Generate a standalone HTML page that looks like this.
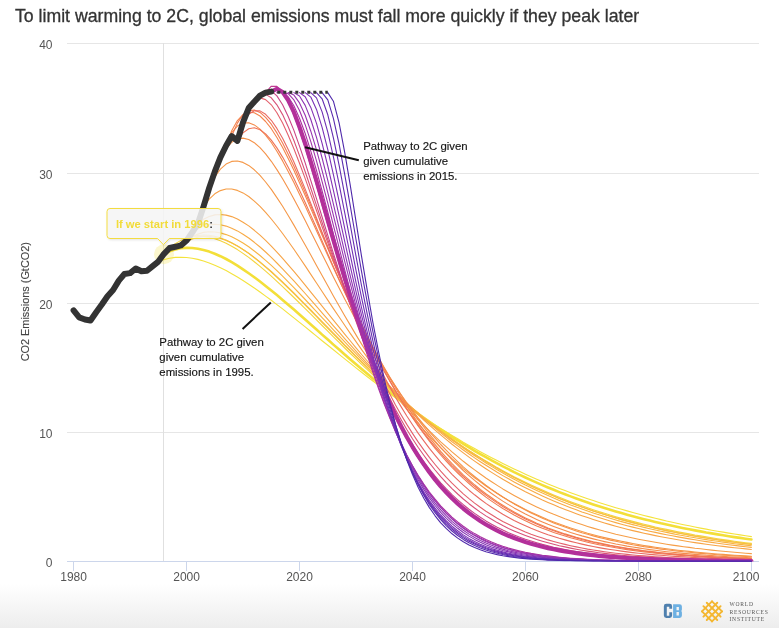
<!DOCTYPE html>
<html><head><meta charset="utf-8"><style>
html,body{margin:0;padding:0;background:#fff;}
body{width:779px;height:628px;overflow:hidden;position:relative;font-family:'Liberation Sans', sans-serif;}
svg{position:absolute;left:0;top:0;}
svg{will-change:transform;}
</style></head><body>
<svg width="779" height="628" viewBox="0 0 779 628" font-family="'Liberation Sans', sans-serif">
<defs>
<linearGradient id="bg" x1="0" y1="0" x2="0" y2="1">
<stop offset="0" stop-color="#ffffff"/><stop offset="1" stop-color="#ededed"/>
</linearGradient>
<clipPath id="plot"><rect x="67" y="40" width="692" height="521.5"/></clipPath>
<filter id="sh" x="-10%" y="-10%" width="130%" height="150%"><feDropShadow dx="1" dy="1" stdDeviation="1" flood-color="#000" flood-opacity="0.12"/></filter>
</defs>
<rect x="0" y="584" width="779" height="44" fill="url(#bg)"/>
<text x="15.0" y="21.8" font-size="17.7" fill="#333" stroke="#333" stroke-width="0.3">To limit warming to 2C, global emissions must fall more quickly if they peak later</text>
<line x1="67" x2="759" y1="43.5" y2="43.5" stroke="#e6e6e6" stroke-width="1"/><line x1="67" x2="759" y1="173.5" y2="173.5" stroke="#e6e6e6" stroke-width="1"/><line x1="67" x2="759" y1="303.5" y2="303.5" stroke="#e6e6e6" stroke-width="1"/><line x1="67" x2="759" y1="432.5" y2="432.5" stroke="#e6e6e6" stroke-width="1"/>
<line x1="163.5" x2="163.5" y1="43" y2="561" stroke="#e0e0e0" stroke-width="1"/>
<line x1="67" x2="759" y1="561.5" y2="561.5" stroke="#ccd6eb" stroke-width="1"/>
<line x1="73.5" x2="73.5" y1="561.5" y2="571" stroke="#ccd6eb" stroke-width="1"/><line x1="186.5" x2="186.5" y1="561.5" y2="571" stroke="#ccd6eb" stroke-width="1"/><line x1="299.5" x2="299.5" y1="561.5" y2="571" stroke="#ccd6eb" stroke-width="1"/><line x1="412.5" x2="412.5" y1="561.5" y2="571" stroke="#ccd6eb" stroke-width="1"/><line x1="525.5" x2="525.5" y1="561.5" y2="571" stroke="#ccd6eb" stroke-width="1"/><line x1="638.5" x2="638.5" y1="561.5" y2="571" stroke="#ccd6eb" stroke-width="1"/><line x1="751.5" x2="751.5" y1="561.5" y2="571" stroke="#ccd6eb" stroke-width="1"/>
<g font-size="12" fill="#555"><text x="52.5" y="566.5" text-anchor="end">0</text><text x="52.5" y="437.5" text-anchor="end">10</text><text x="52.5" y="308.5" text-anchor="end">20</text><text x="52.5" y="178.5" text-anchor="end">30</text><text x="52.5" y="48.5" text-anchor="end">40</text></g>
<g font-size="12" fill="#555" text-anchor="middle"><text x="73.6" y="581">1980</text><text x="186.6" y="581">2000</text><text x="299.5" y="581">2020</text><text x="412.5" y="581">2040</text><text x="525.4" y="581">2060</text><text x="638.4" y="581">2080</text><text x="746.0" y="581">2100</text></g>
<text transform="translate(29.4,301.7) rotate(-90)" text-anchor="middle" font-size="10.9" fill="#444" stroke="#444" stroke-width="0.12">CO2 Emissions (GtCO2)</text>
<g clip-path="url(#plot)"><path d="M158.3 261.6 L164.0 259.6 L169.6 258.2 L175.3 257.4 L180.9 257.2 L186.6 257.5 L192.2 258.2 L197.9 259.4 L203.5 261.0 L209.2 262.9 L214.8 265.2 L220.4 267.8 L226.1 270.6 L231.7 273.7 L237.4 277.0 L243.0 280.5 L248.7 284.2 L254.3 288.0 L260.0 292.0 L265.6 296.1 L271.3 300.3 L276.9 304.6 L282.6 308.9 L288.2 313.4 L293.9 317.9 L299.5 322.4 L305.2 326.9 L310.8 331.5 L316.5 336.1 L322.1 340.7 L327.8 345.3 L333.4 349.8 L339.1 354.4 L344.7 358.9 L350.4 363.4 L356.0 367.9 L361.6 372.3 L367.3 376.7 L372.9 381.0 L378.6 385.3 L384.2 389.5 L389.9 393.7 L395.5 397.8 L401.2 401.9 L406.8 405.9 L412.5 409.8 L418.1 413.7 L423.8 417.5 L429.4 421.2 L435.1 424.9 L440.7 428.5 L446.4 432.0 L452.0 435.4 L457.7 438.8 L463.3 442.2 L469.0 445.4 L474.6 448.6 L480.3 451.7 L485.9 454.7 L491.6 457.7 L497.2 460.6 L502.8 463.5 L508.5 466.3 L514.1 469.0 L519.8 471.6 L525.4 474.2 L531.1 476.7 L536.7 479.2 L542.4 481.6 L548.0 483.9 L553.7 486.2 L559.3 488.4 L565.0 490.6 L570.6 492.7 L576.3 494.8 L581.9 496.8 L587.6 498.7 L593.2 500.6 L598.9 502.4 L604.5 504.2 L610.2 506.0 L615.8 507.7 L621.5 509.3 L627.1 510.9 L632.8 512.5 L638.4 514.0 L644.0 515.5 L649.7 516.9 L655.3 518.3 L661.0 519.6 L666.6 521.0 L672.3 522.2 L677.9 523.5 L683.6 524.7 L689.2 525.8 L694.9 527.0 L700.5 528.1 L706.2 529.1 L711.8 530.2 L717.5 531.2 L723.1 532.1 L728.8 533.1 L734.4 534.0 L740.1 534.9 L745.7 535.7 L751.4 536.6" stroke="#f4e33c" stroke-width="1.1" fill="none" stroke-linejoin="round" stroke-linecap="round"/><path d="M164.0 253.8 L169.6 251.2 L175.3 249.4 L180.9 248.3 L186.6 247.9 L192.2 248.0 L197.9 248.7 L203.5 249.9 L209.2 251.6 L214.8 253.7 L220.4 256.2 L226.1 259.0 L231.7 262.2 L237.4 265.6 L243.0 269.3 L248.7 273.2 L254.3 277.2 L260.0 281.5 L265.6 285.9 L271.3 290.5 L276.9 295.1 L282.6 299.9 L288.2 304.7 L293.9 309.6 L299.5 314.5 L305.2 319.5 L310.8 324.5 L316.5 329.5 L322.1 334.6 L327.8 339.6 L333.4 344.6 L339.1 349.5 L344.7 354.5 L350.4 359.4 L356.0 364.2 L361.6 369.0 L367.3 373.8 L372.9 378.5 L378.6 383.1 L384.2 387.7 L389.9 392.2 L395.5 396.7 L401.2 401.0 L406.8 405.3 L412.5 409.6 L418.1 413.7 L423.8 417.8 L429.4 421.8 L435.1 425.7 L440.7 429.5 L446.4 433.2 L452.0 436.9 L457.7 440.5 L463.3 444.0 L469.0 447.4 L474.6 450.8 L480.3 454.1 L485.9 457.2 L491.6 460.4 L497.2 463.4 L502.8 466.4 L508.5 469.2 L514.1 472.1 L519.8 474.8 L525.4 477.5 L531.1 480.1 L536.7 482.6 L542.4 485.1 L548.0 487.5 L553.7 489.8 L559.3 492.1 L565.0 494.3 L570.6 496.4 L576.3 498.5 L581.9 500.5 L587.6 502.5 L593.2 504.4 L598.9 506.2 L604.5 508.0 L610.2 509.8 L615.8 511.5 L621.5 513.1 L627.1 514.7 L632.8 516.2 L638.4 517.7 L644.0 519.2 L649.7 520.6 L655.3 521.9 L661.0 523.3 L666.6 524.5 L672.3 525.8 L677.9 527.0 L683.6 528.2 L689.2 529.3 L694.9 530.4 L700.5 531.4 L706.2 532.5 L711.8 533.4 L717.5 534.4 L723.1 535.3 L728.8 536.2 L734.4 537.1 L740.1 537.9 L745.7 538.7 L751.4 539.5" stroke="#f3df38" stroke-width="2.6" fill="none" stroke-linejoin="round" stroke-linecap="round"/><path d="M169.6 248.0 L175.3 243.7 L180.9 240.4 L186.6 238.2 L192.2 236.8 L197.9 236.2 L203.5 236.4 L209.2 237.3 L214.8 238.7 L220.4 240.8 L226.1 243.3 L231.7 246.3 L237.4 249.6 L243.0 253.4 L248.7 257.4 L254.3 261.8 L260.0 266.4 L265.6 271.2 L271.3 276.2 L276.9 281.3 L282.6 286.6 L288.2 292.0 L293.9 297.5 L299.5 303.0 L305.2 308.6 L310.8 314.2 L316.5 319.9 L322.1 325.5 L327.8 331.2 L333.4 336.8 L339.1 342.4 L344.7 348.0 L350.4 353.5 L356.0 358.9 L361.6 364.3 L367.3 369.7 L372.9 374.9 L378.6 380.1 L384.2 385.2 L389.9 390.2 L395.5 395.2 L401.2 400.0 L406.8 404.7 L412.5 409.4 L418.1 414.0 L423.8 418.4 L429.4 422.8 L435.1 427.0 L440.7 431.2 L446.4 435.3 L452.0 439.2 L457.7 443.1 L463.3 446.9 L469.0 450.6 L474.6 454.2 L480.3 457.6 L485.9 461.0 L491.6 464.3 L497.2 467.6 L502.8 470.7 L508.5 473.7 L514.1 476.7 L519.8 479.5 L525.4 482.3 L531.1 485.0 L536.7 487.6 L542.4 490.1 L548.0 492.6 L553.7 495.0 L559.3 497.3 L565.0 499.5 L570.6 501.7 L576.3 503.8 L581.9 505.8 L587.6 507.8 L593.2 509.7 L598.9 511.6 L604.5 513.3 L610.2 515.1 L615.8 516.7 L621.5 518.4 L627.1 519.9 L632.8 521.4 L638.4 522.9 L644.0 524.3 L649.7 525.6 L655.3 527.0 L661.0 528.2 L666.6 529.4 L672.3 530.6 L677.9 531.8 L683.6 532.9 L689.2 533.9 L694.9 535.0 L700.5 535.9 L706.2 536.9 L711.8 537.8 L717.5 538.7 L723.1 539.6 L728.8 540.4 L734.4 541.2 L740.1 542.0 L745.7 542.7 L751.4 543.4" stroke="#f5d43c" stroke-width="1.1" fill="none" stroke-linejoin="round" stroke-linecap="round"/><path d="M175.3 246.8 L180.9 242.4 L186.6 239.1 L192.2 236.8 L197.9 235.5 L203.5 235.0 L209.2 235.3 L214.8 236.2 L220.4 237.9 L226.1 240.0 L231.7 242.7 L237.4 245.9 L243.0 249.5 L248.7 253.4 L254.3 257.7 L260.0 262.3 L265.6 267.1 L271.3 272.1 L276.9 277.3 L282.6 282.6 L288.2 288.1 L293.9 293.7 L299.5 299.4 L305.2 305.1 L310.8 310.9 L316.5 316.7 L322.1 322.5 L327.8 328.3 L333.4 334.1 L339.1 339.8 L344.7 345.6 L350.4 351.2 L356.0 356.9 L361.6 362.4 L367.3 367.9 L372.9 373.4 L378.6 378.7 L384.2 383.9 L389.9 389.1 L395.5 394.2 L401.2 399.2 L406.8 404.1 L412.5 408.8 L418.1 413.5 L423.8 418.1 L429.4 422.6 L435.1 426.9 L440.7 431.2 L446.4 435.4 L452.0 439.5 L457.7 443.4 L463.3 447.3 L469.0 451.0 L474.6 454.7 L480.3 458.2 L485.9 461.7 L491.6 465.1 L497.2 468.3 L502.8 471.5 L508.5 474.6 L514.1 477.6 L519.8 480.5 L525.4 483.3 L531.1 486.0 L536.7 488.7 L542.4 491.2 L548.0 493.7 L553.7 496.1 L559.3 498.5 L565.0 500.7 L570.6 502.9 L576.3 505.0 L581.9 507.1 L587.6 509.0 L593.2 510.9 L598.9 512.8 L604.5 514.6 L610.2 516.3 L615.8 518.0 L621.5 519.6 L627.1 521.1 L632.8 522.6 L638.4 524.1 L644.0 525.5 L649.7 526.8 L655.3 528.1 L661.0 529.4 L666.6 530.6 L672.3 531.8 L677.9 532.9 L683.6 534.0 L689.2 535.0 L694.9 536.0 L700.5 537.0 L706.2 538.0 L711.8 538.9 L717.5 539.7 L723.1 540.6 L728.8 541.4 L734.4 542.2 L740.1 542.9 L745.7 543.6 L751.4 544.3" stroke="#f7c840" stroke-width="1.1" fill="none" stroke-linejoin="round" stroke-linecap="round"/><path d="M180.9 245.4 L186.6 241.7 L192.2 239.0 L197.9 237.3 L203.5 236.5 L209.2 236.4 L214.8 237.2 L220.4 238.5 L226.1 240.5 L231.7 243.0 L237.4 246.0 L243.0 249.5 L248.7 253.3 L254.3 257.4 L260.0 261.9 L265.6 266.6 L271.3 271.5 L276.9 276.7 L282.6 282.0 L288.2 287.4 L293.9 292.9 L299.5 298.6 L305.2 304.3 L310.8 310.0 L316.5 315.8 L322.1 321.6 L327.8 327.4 L333.4 333.2 L339.1 339.0 L344.7 344.8 L350.4 350.4 L356.0 356.1 L361.6 361.7 L367.3 367.2 L372.9 372.6 L378.6 378.0 L384.2 383.3 L389.9 388.4 L395.5 393.5 L401.2 398.5 L406.8 403.4 L412.5 408.3 L418.1 413.0 L423.8 417.6 L429.4 422.1 L435.1 426.5 L440.7 430.8 L446.4 434.9 L452.0 439.0 L457.7 443.0 L463.3 446.9 L469.0 450.7 L474.6 454.3 L480.3 457.9 L485.9 461.4 L491.6 464.8 L497.2 468.1 L502.8 471.3 L508.5 474.4 L514.1 477.4 L519.8 480.3 L525.4 483.1 L531.1 485.9 L536.7 488.5 L542.4 491.1 L548.0 493.6 L553.7 496.0 L559.3 498.4 L565.0 500.6 L570.6 502.8 L576.3 504.9 L581.9 507.0 L587.6 509.0 L593.2 510.9 L598.9 512.7 L604.5 514.5 L610.2 516.3 L615.8 517.9 L621.5 519.6 L627.1 521.1 L632.8 522.6 L638.4 524.1 L644.0 525.5 L649.7 526.8 L655.3 528.1 L661.0 529.4 L666.6 530.6 L672.3 531.8 L677.9 532.9 L683.6 534.0 L689.2 535.1 L694.9 536.1 L700.5 537.1 L706.2 538.0 L711.8 538.9 L717.5 539.8 L723.1 540.6 L728.8 541.4 L734.4 542.2 L740.1 542.9 L745.7 543.7 L751.4 544.4" stroke="#f7be42" stroke-width="1.1" fill="none" stroke-linejoin="round" stroke-linecap="round"/><path d="M186.6 240.5 L192.2 236.7 L197.9 234.1 L203.5 232.4 L209.2 231.8 L214.8 232.0 L220.4 232.9 L226.1 234.6 L231.7 236.8 L237.4 239.7 L243.0 243.0 L248.7 246.8 L254.3 251.0 L260.0 255.5 L265.6 260.3 L271.3 265.4 L276.9 270.7 L282.6 276.2 L288.2 281.8 L293.9 287.6 L299.5 293.5 L305.2 299.5 L310.8 305.5 L316.5 311.6 L322.1 317.7 L327.8 323.7 L333.4 329.8 L339.1 335.9 L344.7 341.9 L350.4 347.8 L356.0 353.7 L361.6 359.6 L367.3 365.3 L372.9 371.0 L378.6 376.6 L384.2 382.1 L389.9 387.5 L395.5 392.9 L401.2 398.1 L406.8 403.2 L412.5 408.2 L418.1 413.0 L423.8 417.8 L429.4 422.5 L435.1 427.0 L440.7 431.5 L446.4 435.8 L452.0 440.0 L457.7 444.1 L463.3 448.1 L469.0 452.0 L474.6 455.7 L480.3 459.4 L485.9 463.0 L491.6 466.4 L497.2 469.8 L502.8 473.0 L508.5 476.2 L514.1 479.2 L519.8 482.2 L525.4 485.1 L531.1 487.8 L536.7 490.5 L542.4 493.1 L548.0 495.6 L553.7 498.1 L559.3 500.4 L565.0 502.7 L570.6 504.9 L576.3 507.0 L581.9 509.1 L587.6 511.1 L593.2 513.0 L598.9 514.8 L604.5 516.6 L610.2 518.3 L615.8 520.0 L621.5 521.6 L627.1 523.1 L632.8 524.6 L638.4 526.0 L644.0 527.4 L649.7 528.7 L655.3 530.0 L661.0 531.2 L666.6 532.4 L672.3 533.6 L677.9 534.7 L683.6 535.7 L689.2 536.8 L694.9 537.7 L700.5 538.7 L706.2 539.6 L711.8 540.5 L717.5 541.3 L723.1 542.1 L728.8 542.9 L734.4 543.7 L740.1 544.4 L745.7 545.1 L751.4 545.7" stroke="#f8b443" stroke-width="1.1" fill="none" stroke-linejoin="round" stroke-linecap="round"/><path d="M192.2 232.5 L197.9 228.7 L203.5 226.1 L209.2 224.7 L214.8 224.3 L220.4 224.8 L226.1 226.1 L231.7 228.2 L237.4 230.9 L243.0 234.2 L248.7 238.0 L254.3 242.3 L260.0 247.0 L265.6 252.0 L271.3 257.4 L276.9 263.0 L282.6 268.8 L288.2 274.8 L293.9 280.9 L299.5 287.2 L305.2 293.5 L310.8 299.9 L316.5 306.4 L322.1 312.9 L327.8 319.3 L333.4 325.8 L339.1 332.2 L344.7 338.6 L350.4 344.9 L356.0 351.2 L361.6 357.4 L367.3 363.5 L372.9 369.5 L378.6 375.4 L384.2 381.2 L389.9 386.9 L395.5 392.5 L401.2 398.0 L406.8 403.3 L412.5 408.5 L418.1 413.6 L423.8 418.6 L429.4 423.5 L435.1 428.2 L440.7 432.8 L446.4 437.3 L452.0 441.7 L457.7 445.9 L463.3 450.0 L469.0 454.0 L474.6 457.9 L480.3 461.7 L485.9 465.3 L491.6 468.8 L497.2 472.3 L502.8 475.6 L508.5 478.8 L514.1 481.9 L519.8 484.9 L525.4 487.8 L531.1 490.6 L536.7 493.3 L542.4 495.9 L548.0 498.5 L553.7 500.9 L559.3 503.3 L565.0 505.5 L570.6 507.7 L576.3 509.8 L581.9 511.9 L587.6 513.8 L593.2 515.7 L598.9 517.5 L604.5 519.3 L610.2 521.0 L615.8 522.6 L621.5 524.2 L627.1 525.7 L632.8 527.1 L638.4 528.5 L644.0 529.9 L649.7 531.2 L655.3 532.4 L661.0 533.6 L666.6 534.7 L672.3 535.8 L677.9 536.9 L683.6 537.9 L689.2 538.9 L694.9 539.8 L700.5 540.7 L706.2 541.6 L711.8 542.4 L717.5 543.2 L723.1 544.0 L728.8 544.7 L734.4 545.4 L740.1 546.1 L745.7 546.8 L751.4 547.4" stroke="#f8aa45" stroke-width="1.1" fill="none" stroke-linejoin="round" stroke-linecap="round"/><path d="M197.9 223.7 L203.5 219.3 L209.2 216.5 L214.8 214.9 L220.4 214.5 L226.1 215.1 L231.7 216.6 L237.4 219.0 L243.0 222.2 L248.7 225.9 L254.3 230.3 L260.0 235.1 L265.6 240.4 L271.3 246.1 L276.9 252.1 L282.6 258.3 L288.2 264.8 L293.9 271.4 L299.5 278.2 L305.2 285.1 L310.8 292.1 L316.5 299.1 L322.1 306.1 L327.8 313.2 L333.4 320.2 L339.1 327.2 L344.7 334.1 L350.4 341.0 L356.0 347.8 L361.6 354.5 L367.3 361.0 L372.9 367.5 L378.6 373.9 L384.2 380.1 L389.9 386.2 L395.5 392.2 L401.2 398.0 L406.8 403.7 L412.5 409.3 L418.1 414.7 L423.8 420.0 L429.4 425.1 L435.1 430.1 L440.7 434.9 L446.4 439.6 L452.0 444.2 L457.7 448.6 L463.3 452.9 L469.0 457.1 L474.6 461.1 L480.3 465.0 L485.9 468.7 L491.6 472.4 L497.2 475.9 L502.8 479.3 L508.5 482.5 L514.1 485.7 L519.8 488.7 L525.4 491.7 L531.1 494.5 L536.7 497.2 L542.4 499.9 L548.0 502.4 L553.7 504.8 L559.3 507.2 L565.0 509.4 L570.6 511.6 L576.3 513.7 L581.9 515.7 L587.6 517.6 L593.2 519.5 L598.9 521.3 L604.5 523.0 L610.2 524.6 L615.8 526.2 L621.5 527.7 L627.1 529.2 L632.8 530.6 L638.4 531.9 L644.0 533.2 L649.7 534.4 L655.3 535.6 L661.0 536.7 L666.6 537.8 L672.3 538.8 L677.9 539.8 L683.6 540.8 L689.2 541.7 L694.9 542.6 L700.5 543.4 L706.2 544.2 L711.8 545.0 L717.5 545.7 L723.1 546.4 L728.8 547.1 L734.4 547.7 L740.1 548.3 L745.7 548.9 L751.4 549.5" stroke="#f7a446" stroke-width="1.1" fill="none" stroke-linejoin="round" stroke-linecap="round"/><path d="M203.5 206.6 L209.2 199.1 L214.8 193.8 L220.4 190.6 L226.1 189.0 L231.7 189.0 L237.4 190.4 L243.0 192.9 L248.7 196.5 L254.3 201.1 L260.0 206.4 L265.6 212.4 L271.3 219.0 L276.9 226.0 L282.6 233.5 L288.2 241.3 L293.9 249.3 L299.5 257.5 L305.2 265.9 L310.8 274.4 L316.5 283.0 L322.1 291.5 L327.8 300.1 L333.4 308.6 L339.1 317.0 L344.7 325.3 L350.4 333.6 L356.0 341.6 L361.6 349.6 L367.3 357.4 L372.9 365.0 L378.6 372.5 L384.2 379.7 L389.9 386.8 L395.5 393.7 L401.2 400.4 L406.8 406.9 L412.5 413.2 L418.1 419.3 L423.8 425.2 L429.4 430.9 L435.1 436.4 L440.7 441.8 L446.4 446.9 L452.0 451.9 L457.7 456.7 L463.3 461.3 L469.0 465.7 L474.6 469.9 L480.3 474.0 L485.9 478.0 L491.6 481.8 L497.2 485.4 L502.8 488.9 L508.5 492.2 L514.1 495.4 L519.8 498.5 L525.4 501.4 L531.1 504.2 L536.7 506.9 L542.4 509.5 L548.0 511.9 L553.7 514.3 L559.3 516.5 L565.0 518.7 L570.6 520.7 L576.3 522.7 L581.9 524.6 L587.6 526.4 L593.2 528.1 L598.9 529.7 L604.5 531.3 L610.2 532.7 L615.8 534.2 L621.5 535.5 L627.1 536.8 L632.8 538.0 L638.4 539.2 L644.0 540.3 L649.7 541.3 L655.3 542.3 L661.0 543.3 L666.6 544.2 L672.3 545.1 L677.9 545.9 L683.6 546.7 L689.2 547.4 L694.9 548.2 L700.5 548.8 L706.2 549.5 L711.8 550.1 L717.5 550.7 L723.1 551.2 L728.8 551.7 L734.4 552.2 L740.1 552.7 L745.7 553.2 L751.4 553.6" stroke="#f69e47" stroke-width="1.1" fill="none" stroke-linejoin="round" stroke-linecap="round"/><path d="M209.2 187.9 L214.8 176.9 L220.4 169.1 L226.1 164.1 L231.7 161.4 L237.4 161.0 L243.0 162.4 L248.7 165.4 L254.3 169.8 L260.0 175.4 L265.6 182.0 L271.3 189.4 L276.9 197.6 L282.6 206.3 L288.2 215.5 L293.9 225.1 L299.5 234.9 L305.2 245.0 L310.8 255.1 L316.5 265.4 L322.1 275.6 L327.8 285.8 L333.4 295.9 L339.1 305.9 L344.7 315.7 L350.4 325.4 L356.0 334.9 L361.6 344.1 L367.3 353.2 L372.9 362.0 L378.6 370.6 L384.2 378.9 L389.9 386.9 L395.5 394.7 L401.2 402.3 L406.8 409.5 L412.5 416.6 L418.1 423.3 L423.8 429.8 L429.4 436.1 L435.1 442.1 L440.7 447.8 L446.4 453.4 L452.0 458.7 L457.7 463.7 L463.3 468.6 L469.0 473.2 L474.6 477.7 L480.3 481.9 L485.9 486.0 L491.6 489.8 L497.2 493.5 L502.8 497.0 L508.5 500.4 L514.1 503.5 L519.8 506.6 L525.4 509.5 L531.1 512.2 L536.7 514.8 L542.4 517.3 L548.0 519.7 L553.7 521.9 L559.3 524.0 L565.0 526.1 L570.6 528.0 L576.3 529.8 L581.9 531.5 L587.6 533.2 L593.2 534.7 L598.9 536.2 L604.5 537.6 L610.2 538.9 L615.8 540.1 L621.5 541.3 L627.1 542.4 L632.8 543.5 L638.4 544.5 L644.0 545.5 L649.7 546.4 L655.3 547.2 L661.0 548.0 L666.6 548.8 L672.3 549.5 L677.9 550.2 L683.6 550.8 L689.2 551.4 L694.9 552.0 L700.5 552.5 L706.2 553.0 L711.8 553.5 L717.5 554.0 L723.1 554.4 L728.8 554.8 L734.4 555.2 L740.1 555.5 L745.7 555.9 L751.4 556.2" stroke="#f59848" stroke-width="1.1" fill="none" stroke-linejoin="round" stroke-linecap="round"/><path d="M214.8 171.6 L220.4 158.2 L226.1 148.6 L231.7 142.3 L237.4 139.0 L243.0 138.1 L248.7 139.5 L254.3 142.7 L260.0 147.6 L265.6 153.9 L271.3 161.3 L276.9 169.6 L282.6 178.8 L288.2 188.6 L293.9 198.9 L299.5 209.6 L305.2 220.6 L310.8 231.7 L316.5 243.0 L322.1 254.3 L327.8 265.6 L333.4 276.9 L339.1 288.0 L344.7 298.9 L350.4 309.6 L356.0 320.2 L361.6 330.5 L367.3 340.5 L372.9 350.3 L378.6 359.8 L384.2 369.0 L389.9 377.8 L395.5 386.4 L401.2 394.7 L406.8 402.7 L412.5 410.4 L418.1 417.8 L423.8 424.9 L429.4 431.7 L435.1 438.2 L440.7 444.5 L446.4 450.4 L452.0 456.1 L457.7 461.6 L463.3 466.8 L469.0 471.8 L474.6 476.5 L480.3 481.0 L485.9 485.3 L491.6 489.4 L497.2 493.3 L502.8 497.0 L508.5 500.5 L514.1 503.9 L519.8 507.0 L525.4 510.0 L531.1 512.9 L536.7 515.6 L542.4 518.2 L548.0 520.6 L553.7 522.9 L559.3 525.1 L565.0 527.1 L570.6 529.1 L576.3 530.9 L581.9 532.7 L587.6 534.3 L593.2 535.9 L598.9 537.4 L604.5 538.8 L610.2 540.1 L615.8 541.3 L621.5 542.5 L627.1 543.6 L632.8 544.7 L638.4 545.6 L644.0 546.6 L649.7 547.4 L655.3 548.3 L661.0 549.1 L666.6 549.8 L672.3 550.5 L677.9 551.1 L683.6 551.8 L689.2 552.3 L694.9 552.9 L700.5 553.4 L706.2 553.9 L711.8 554.3 L717.5 554.8 L723.1 555.2 L728.8 555.5 L734.4 555.9 L740.1 556.2 L745.7 556.5 L751.4 556.8" stroke="#f59249" stroke-width="1.1" fill="none" stroke-linejoin="round" stroke-linecap="round"/><path d="M220.4 157.4 L226.1 142.8 L231.7 132.6 L237.4 126.1 L243.0 123.0 L248.7 122.7 L254.3 124.9 L260.0 129.1 L265.6 135.1 L271.3 142.5 L276.9 151.2 L282.6 160.9 L288.2 171.4 L293.9 182.5 L299.5 194.2 L305.2 206.1 L310.8 218.3 L316.5 230.7 L322.1 243.1 L327.8 255.4 L333.4 267.7 L339.1 279.9 L344.7 291.8 L350.4 303.5 L356.0 315.0 L361.6 326.1 L367.3 337.0 L372.9 347.6 L378.6 357.8 L384.2 367.6 L389.9 377.2 L395.5 386.3 L401.2 395.2 L406.8 403.6 L412.5 411.8 L418.1 419.6 L423.8 427.0 L429.4 434.1 L435.1 441.0 L440.7 447.5 L446.4 453.7 L452.0 459.6 L457.7 465.2 L463.3 470.5 L469.0 475.6 L474.6 480.4 L480.3 485.0 L485.9 489.3 L491.6 493.5 L497.2 497.4 L502.8 501.1 L508.5 504.6 L514.1 507.9 L519.8 511.0 L525.4 514.0 L531.1 516.8 L536.7 519.4 L542.4 521.9 L548.0 524.3 L553.7 526.5 L559.3 528.6 L565.0 530.6 L570.6 532.5 L576.3 534.2 L581.9 535.9 L587.6 537.4 L593.2 538.9 L598.9 540.3 L604.5 541.6 L610.2 542.8 L615.8 544.0 L621.5 545.0 L627.1 546.1 L632.8 547.0 L638.4 547.9 L644.0 548.8 L649.7 549.6 L655.3 550.3 L661.0 551.0 L666.6 551.7 L672.3 552.3 L677.9 552.9 L683.6 553.4 L689.2 553.9 L694.9 554.4 L700.5 554.8 L706.2 555.3 L711.8 555.6 L717.5 556.0 L723.1 556.4 L728.8 556.7 L734.4 557.0 L740.1 557.3 L745.7 557.5 L751.4 557.8" stroke="#f48b4b" stroke-width="1.1" fill="none" stroke-linejoin="round" stroke-linecap="round"/><path d="M226.1 145.7 L231.7 130.7 L237.4 120.6 L243.0 114.6 L248.7 112.1 L254.3 112.8 L260.0 116.0 L265.6 121.5 L271.3 128.7 L276.9 137.5 L282.6 147.5 L288.2 158.5 L293.9 170.3 L299.5 182.7 L305.2 195.5 L310.8 208.6 L316.5 221.9 L322.1 235.2 L327.8 248.6 L333.4 261.8 L339.1 274.8 L344.7 287.6 L350.4 300.2 L356.0 312.4 L361.6 324.3 L367.3 335.9 L372.9 347.1 L378.6 357.9 L384.2 368.3 L389.9 378.4 L395.5 388.0 L401.2 397.3 L406.8 406.1 L412.5 414.6 L418.1 422.7 L423.8 430.4 L429.4 437.7 L435.1 444.7 L440.7 451.4 L446.4 457.7 L452.0 463.7 L457.7 469.4 L463.3 474.8 L469.0 479.9 L474.6 484.8 L480.3 489.4 L485.9 493.7 L491.6 497.8 L497.2 501.7 L502.8 505.3 L508.5 508.8 L514.1 512.0 L519.8 515.1 L525.4 517.9 L531.1 520.6 L536.7 523.2 L542.4 525.6 L548.0 527.9 L553.7 530.0 L559.3 532.0 L565.0 533.9 L570.6 535.6 L576.3 537.3 L581.9 538.8 L587.6 540.3 L593.2 541.7 L598.9 542.9 L604.5 544.1 L610.2 545.3 L615.8 546.3 L621.5 547.3 L627.1 548.2 L632.8 549.1 L638.4 549.9 L644.0 550.7 L649.7 551.4 L655.3 552.0 L661.0 552.7 L666.6 553.3 L672.3 553.8 L677.9 554.3 L683.6 554.8 L689.2 555.2 L694.9 555.6 L700.5 556.0 L706.2 556.4 L711.8 556.7 L717.5 557.0 L723.1 557.3 L728.8 557.6 L734.4 557.9 L740.1 558.1 L745.7 558.3 L751.4 558.5" stroke="#f4854c" stroke-width="1.1" fill="none" stroke-linejoin="round" stroke-linecap="round"/><path d="M231.7 136.1 L237.4 123.1 L243.0 114.8 L248.7 110.7 L254.3 110.1 L260.0 112.4 L265.6 117.3 L271.3 124.2 L276.9 132.9 L282.6 143.0 L288.2 154.2 L293.9 166.3 L299.5 179.0 L305.2 192.2 L310.8 205.8 L316.5 219.5 L322.1 233.4 L327.8 247.1 L333.4 260.8 L339.1 274.3 L344.7 287.6 L350.4 300.6 L356.0 313.2 L361.6 325.5 L367.3 337.4 L372.9 348.9 L378.6 360.0 L384.2 370.7 L389.9 381.0 L395.5 390.8 L401.2 400.2 L406.8 409.2 L412.5 417.8 L418.1 426.0 L423.8 433.8 L429.4 441.2 L435.1 448.3 L440.7 455.0 L446.4 461.3 L452.0 467.3 L457.7 473.0 L463.3 478.4 L469.0 483.5 L474.6 488.3 L480.3 492.8 L485.9 497.1 L491.6 501.1 L497.2 504.9 L502.8 508.5 L508.5 511.8 L514.1 515.0 L519.8 518.0 L525.4 520.8 L531.1 523.4 L536.7 525.9 L542.4 528.2 L548.0 530.3 L553.7 532.4 L559.3 534.3 L565.0 536.1 L570.6 537.8 L576.3 539.3 L581.9 540.8 L587.6 542.2 L593.2 543.5 L598.9 544.7 L604.5 545.8 L610.2 546.8 L615.8 547.8 L621.5 548.7 L627.1 549.6 L632.8 550.4 L638.4 551.2 L644.0 551.9 L649.7 552.5 L655.3 553.1 L661.0 553.7 L666.6 554.2 L672.3 554.7 L677.9 555.2 L683.6 555.6 L689.2 556.0 L694.9 556.4 L700.5 556.7 L706.2 557.1 L711.8 557.4 L717.5 557.7 L723.1 557.9 L728.8 558.2 L734.4 558.4 L740.1 558.6 L745.7 558.8 L751.4 559.0" stroke="#f27c52" stroke-width="1.1" fill="none" stroke-linejoin="round" stroke-linecap="round"/><path d="M237.4 140.9 L243.0 132.9 L248.7 128.7 L254.3 127.8 L260.0 129.7 L265.6 133.9 L271.3 140.1 L276.9 147.9 L282.6 157.1 L288.2 167.3 L293.9 178.5 L299.5 190.2 L305.2 202.5 L310.8 215.1 L316.5 228.0 L322.1 240.9 L327.8 253.9 L333.4 266.8 L339.1 279.5 L344.7 292.1 L350.4 304.4 L356.0 316.4 L361.6 328.1 L367.3 339.5 L372.9 350.5 L378.6 361.2 L384.2 371.5 L389.9 381.3 L395.5 390.9 L401.2 400.0 L406.8 408.7 L412.5 417.1 L418.1 425.0 L423.8 432.7 L429.4 439.9 L435.1 446.8 L440.7 453.4 L446.4 459.6 L452.0 465.6 L457.7 471.2 L463.3 476.5 L469.0 481.5 L474.6 486.3 L480.3 490.8 L485.9 495.1 L491.6 499.1 L497.2 502.9 L502.8 506.5 L508.5 509.9 L514.1 513.1 L519.8 516.1 L525.4 519.0 L531.1 521.6 L536.7 524.1 L542.4 526.5 L548.0 528.7 L553.7 530.8 L559.3 532.7 L565.0 534.6 L570.6 536.3 L576.3 537.9 L581.9 539.5 L587.6 540.9 L593.2 542.2 L598.9 543.5 L604.5 544.6 L610.2 545.7 L615.8 546.8 L621.5 547.7 L627.1 548.6 L632.8 549.5 L638.4 550.3 L644.0 551.0 L649.7 551.7 L655.3 552.4 L661.0 553.0 L666.6 553.5 L672.3 554.1 L677.9 554.6 L683.6 555.0 L689.2 555.5 L694.9 555.9 L700.5 556.2 L706.2 556.6 L711.8 556.9 L717.5 557.2 L723.1 557.5 L728.8 557.8 L734.4 558.0 L740.1 558.2 L745.7 558.5 L751.4 558.7" stroke="#ef7357" stroke-width="1.1" fill="none" stroke-linejoin="round" stroke-linecap="round"/><path d="M243.0 122.4 L248.7 114.3 L254.3 110.7 L260.0 110.9 L265.6 114.3 L271.3 120.3 L276.9 128.4 L282.6 138.3 L288.2 149.6 L293.9 162.0 L299.5 175.3 L305.2 189.1 L310.8 203.4 L316.5 217.9 L322.1 232.5 L327.8 247.0 L333.4 261.5 L339.1 275.7 L344.7 289.7 L350.4 303.3 L356.0 316.6 L361.6 329.5 L367.3 341.9 L372.9 353.9 L378.6 365.5 L384.2 376.5 L389.9 387.1 L395.5 397.2 L401.2 406.9 L406.8 416.0 L412.5 424.8 L418.1 433.1 L423.8 440.9 L429.4 448.4 L435.1 455.4 L440.7 462.1 L446.4 468.4 L452.0 474.3 L457.7 479.9 L463.3 485.2 L469.0 490.2 L474.6 494.8 L480.3 499.2 L485.9 503.4 L491.6 507.2 L497.2 510.8 L502.8 514.2 L508.5 517.4 L514.1 520.4 L519.8 523.2 L525.4 525.8 L531.1 528.3 L536.7 530.6 L542.4 532.7 L548.0 534.7 L553.7 536.5 L559.3 538.3 L565.0 539.9 L570.6 541.4 L576.3 542.8 L581.9 544.1 L587.6 545.4 L593.2 546.5 L598.9 547.6 L604.5 548.6 L610.2 549.5 L615.8 550.3 L621.5 551.1 L627.1 551.9 L632.8 552.6 L638.4 553.2 L644.0 553.8 L649.7 554.4 L655.3 554.9 L661.0 555.3 L666.6 555.8 L672.3 556.2 L677.9 556.6 L683.6 556.9 L689.2 557.3 L694.9 557.6 L700.5 557.9 L706.2 558.1 L711.8 558.4 L717.5 558.6 L723.1 558.8 L728.8 559.0 L734.4 559.2 L740.1 559.3 L745.7 559.5 L751.4 559.6" stroke="#e96a62" stroke-width="1.1" fill="none" stroke-linejoin="round" stroke-linecap="round"/><path d="M248.7 108.1 L254.3 100.5 L260.0 97.9 L265.6 99.6 L271.3 104.8 L276.9 112.8 L282.6 123.1 L288.2 135.2 L293.9 148.8 L299.5 163.3 L305.2 178.6 L310.8 194.4 L316.5 210.5 L322.1 226.7 L327.8 242.8 L333.4 258.8 L339.1 274.4 L344.7 289.7 L350.4 304.6 L356.0 319.1 L361.6 333.0 L367.3 346.4 L372.9 359.2 L378.6 371.5 L384.2 383.2 L389.9 394.3 L395.5 404.9 L401.2 414.9 L406.8 424.4 L412.5 433.4 L418.1 441.9 L423.8 449.9 L429.4 457.4 L435.1 464.5 L440.7 471.2 L446.4 477.4 L452.0 483.2 L457.7 488.7 L463.3 493.8 L469.0 498.6 L474.6 503.1 L480.3 507.3 L485.9 511.2 L491.6 514.8 L497.2 518.2 L502.8 521.4 L508.5 524.3 L514.1 527.1 L519.8 529.6 L525.4 532.0 L531.1 534.2 L536.7 536.2 L542.4 538.1 L548.0 539.9 L553.7 541.5 L559.3 543.0 L565.0 544.4 L570.6 545.7 L576.3 546.9 L581.9 548.0 L587.6 549.1 L593.2 550.0 L598.9 550.9 L604.5 551.7 L610.2 552.5 L615.8 553.2 L621.5 553.8 L627.1 554.4 L632.8 555.0 L638.4 555.5 L644.0 555.9 L649.7 556.4 L655.3 556.8 L661.0 557.1 L666.6 557.5 L672.3 557.8 L677.9 558.1 L683.6 558.3 L689.2 558.6 L694.9 558.8 L700.5 559.0 L706.2 559.2 L711.8 559.4 L717.5 559.5 L723.1 559.7 L728.8 559.8 L734.4 560.0 L740.1 560.1 L745.7 560.2 L751.4 560.3" stroke="#e3606c" stroke-width="1.1" fill="none" stroke-linejoin="round" stroke-linecap="round"/><path d="M254.3 101.7 L260.0 95.4 L265.6 94.4 L271.3 97.8 L276.9 104.8 L282.6 114.6 L288.2 126.7 L293.9 140.5 L299.5 155.6 L305.2 171.7 L310.8 188.3 L316.5 205.3 L322.1 222.5 L327.8 239.5 L333.4 256.5 L339.1 273.0 L344.7 289.2 L350.4 305.0 L356.0 320.1 L361.6 334.8 L367.3 348.8 L372.9 362.2 L378.6 374.9 L384.2 387.1 L389.9 398.6 L395.5 409.5 L401.2 419.8 L406.8 429.5 L412.5 438.7 L418.1 447.3 L423.8 455.3 L429.4 462.9 L435.1 470.0 L440.7 476.6 L446.4 482.8 L452.0 488.6 L457.7 494.0 L463.3 499.0 L469.0 503.7 L474.6 508.0 L480.3 512.1 L485.9 515.9 L491.6 519.3 L497.2 522.6 L502.8 525.6 L508.5 528.4 L514.1 530.9 L519.8 533.3 L525.4 535.5 L531.1 537.6 L536.7 539.5 L542.4 541.2 L548.0 542.8 L553.7 544.3 L559.3 545.7 L565.0 546.9 L570.6 548.1 L576.3 549.2 L581.9 550.2 L587.6 551.1 L593.2 551.9 L598.9 552.7 L604.5 553.4 L610.2 554.1 L615.8 554.7 L621.5 555.2 L627.1 555.7 L632.8 556.2 L638.4 556.6 L644.0 557.0 L649.7 557.4 L655.3 557.7 L661.0 558.0 L666.6 558.3 L672.3 558.6 L677.9 558.8 L683.6 559.0 L689.2 559.2 L694.9 559.4 L700.5 559.6 L706.2 559.7 L711.8 559.9 L717.5 560.0 L723.1 560.1 L728.8 560.2 L734.4 560.3 L740.1 560.4 L745.7 560.5 L751.4 560.6" stroke="#d85278" stroke-width="1.1" fill="none" stroke-linejoin="round" stroke-linecap="round"/><path d="M260.0 95.6 L265.6 90.3 L271.3 90.8 L276.9 95.9 L282.6 104.7 L288.2 116.5 L293.9 130.4 L299.5 146.1 L305.2 162.9 L310.8 180.6 L316.5 198.7 L322.1 217.0 L327.8 235.3 L333.4 253.4 L339.1 271.1 L344.7 288.4 L350.4 305.1 L356.0 321.2 L361.6 336.7 L367.3 351.5 L372.9 365.6 L378.6 378.9 L384.2 391.6 L389.9 403.5 L395.5 414.8 L401.2 425.4 L406.8 435.3 L412.5 444.6 L418.1 453.4 L423.8 461.5 L429.4 469.1 L435.1 476.2 L440.7 482.8 L446.4 488.9 L452.0 494.6 L457.7 499.8 L463.3 504.7 L469.0 509.3 L474.6 513.4 L480.3 517.3 L485.9 520.9 L491.6 524.2 L497.2 527.3 L502.8 530.1 L508.5 532.7 L514.1 535.0 L519.8 537.2 L525.4 539.3 L531.1 541.1 L536.7 542.8 L542.4 544.4 L548.0 545.8 L553.7 547.2 L559.3 548.4 L565.0 549.5 L570.6 550.5 L576.3 551.5 L581.9 552.3 L587.6 553.1 L593.2 553.8 L598.9 554.5 L604.5 555.1 L610.2 555.6 L615.8 556.1 L621.5 556.6 L627.1 557.0 L632.8 557.4 L638.4 557.8 L644.0 558.1 L649.7 558.4 L655.3 558.6 L661.0 558.9 L666.6 559.1 L672.3 559.3 L677.9 559.5 L683.6 559.7 L689.2 559.8 L694.9 560.0 L700.5 560.1 L706.2 560.2 L711.8 560.3 L717.5 560.4 L723.1 560.5 L728.8 560.6 L734.4 560.7 L740.1 560.7 L745.7 560.8 L751.4 560.8" stroke="#cc4585" stroke-width="1.1" fill="none" stroke-linejoin="round" stroke-linecap="round"/><path d="M265.6 92.6 L271.3 86.2 L276.9 86.4 L282.6 92.0 L288.2 101.8 L293.9 114.9 L299.5 130.4 L305.2 147.6 L310.8 166.1 L316.5 185.3 L322.1 205.0 L327.8 224.7 L333.4 244.2 L339.1 263.5 L344.7 282.2 L350.4 300.3 L356.0 317.7 L361.6 334.4 L367.3 350.3 L372.9 365.4 L378.6 379.7 L384.2 393.1 L389.9 405.8 L395.5 417.6 L401.2 428.7 L406.8 439.1 L412.5 448.8 L418.1 457.8 L423.8 466.1 L429.4 473.9 L435.1 481.0 L440.7 487.7 L446.4 493.8 L452.0 499.5 L457.7 504.7 L463.3 509.6 L469.0 514.0 L474.6 518.1 L480.3 521.8 L485.9 525.3 L491.6 528.4 L497.2 531.3 L502.8 534.0 L508.5 536.4 L514.1 538.6 L519.8 540.6 L525.4 542.5 L531.1 544.2 L536.7 545.8 L542.4 547.2 L548.0 548.5 L553.7 549.6 L559.3 550.7 L565.0 551.7 L570.6 552.6 L576.3 553.4 L581.9 554.1 L587.6 554.8 L593.2 555.4 L598.9 556.0 L604.5 556.5 L610.2 556.9 L615.8 557.4 L621.5 557.7 L627.1 558.1 L632.8 558.4 L638.4 558.7 L644.0 558.9 L649.7 559.2 L655.3 559.4 L661.0 559.6 L666.6 559.7 L672.3 559.9 L677.9 560.0 L683.6 560.2 L689.2 560.3 L694.9 560.4 L700.5 560.5 L706.2 560.6 L711.8 560.7 L717.5 560.7 L723.1 560.8 L728.8 560.9 L734.4 560.9 L740.1 561.0 L745.7 561.0 L751.4 561.0" stroke="#c03a90" stroke-width="1.1" fill="none" stroke-linejoin="round" stroke-linecap="round"/><path d="M271.3 91.6 L276.9 88.8 L282.6 92.1 L288.2 100.3 L293.9 112.2 L299.5 127.0 L305.2 143.7 L310.8 161.9 L316.5 181.0 L322.1 200.5 L327.8 220.3 L333.4 240.0 L339.1 259.3 L344.7 278.2 L350.4 296.5 L356.0 314.1 L361.6 331.0 L367.3 347.0 L372.9 362.3 L378.6 376.8 L384.2 390.4 L389.9 403.2 L395.5 415.2 L401.2 426.5 L406.8 437.0 L412.5 446.8 L418.1 455.9 L423.8 464.4 L429.4 472.3 L435.1 479.6 L440.7 486.3 L446.4 492.5 L452.0 498.3 L457.7 503.6 L463.3 508.5 L469.0 513.0 L474.6 517.1 L480.3 521.0 L485.9 524.5 L491.6 527.7 L497.2 530.6 L502.8 533.3 L508.5 535.8 L514.1 538.0 L519.8 540.1 L525.4 542.0 L531.1 543.7 L536.7 545.3 L542.4 546.8 L548.0 548.1 L553.7 549.3 L559.3 550.4 L565.0 551.4 L570.6 552.3 L576.3 553.1 L581.9 553.9 L587.6 554.6 L593.2 555.2 L598.9 555.8 L604.5 556.3 L610.2 556.8 L615.8 557.2 L621.5 557.6 L627.1 558.0 L632.8 558.3 L638.4 558.6 L644.0 558.8 L649.7 559.1 L655.3 559.3 L661.0 559.5 L666.6 559.7 L672.3 559.8 L677.9 560.0 L683.6 560.1 L689.2 560.2 L694.9 560.3 L700.5 560.4 L706.2 560.5 L711.8 560.6 L717.5 560.7 L723.1 560.8 L728.8 560.8 L734.4 560.9 L740.1 560.9 L745.7 561.0 L751.4 561.0" stroke="#b3309a" stroke-width="4.2" fill="none" stroke-linejoin="round" stroke-linecap="round"/><path d="M276.9 92.6 L282.6 92.2 L288.2 96.8 L293.9 105.7 L299.5 118.2 L305.2 133.5 L310.8 151.2 L316.5 170.5 L322.1 191.0 L327.8 212.2 L333.4 233.8 L339.1 255.3 L344.7 276.6 L350.4 297.3 L356.0 317.4 L361.6 336.7 L367.3 355.0 L372.9 372.4 L378.6 388.8 L384.2 404.1 L389.9 418.4 L395.5 431.7 L401.2 444.0 L406.8 455.4 L412.5 465.8 L418.1 475.3 L423.8 484.0 L429.4 492.0 L435.1 499.2 L440.7 505.8 L446.4 511.7 L452.0 517.1 L457.7 521.9 L463.3 526.2 L469.0 530.1 L474.6 533.6 L480.3 536.8 L485.9 539.6 L491.6 542.1 L497.2 544.3 L502.8 546.3 L508.5 548.1 L514.1 549.6 L519.8 551.0 L525.4 552.3 L531.1 553.4 L536.7 554.3 L542.4 555.2 L548.0 555.9 L553.7 556.6 L559.3 557.2 L565.0 557.7 L570.6 558.2 L576.3 558.6 L581.9 558.9 L587.6 559.2 L593.2 559.5 L598.9 559.7 L604.5 560.0 L610.2 560.1 L615.8 560.3 L621.5 560.4 L627.1 560.6 L632.8 560.7 L638.4 560.8 L644.0 560.8 L649.7 560.9 L655.3 561.0 L661.0 561.0 L666.6 561.1 L672.3 561.1 L677.9 561.2 L683.6 561.2 L689.2 561.2 L694.9 561.2 L700.5 561.3 L706.2 561.3 L711.8 561.3 L717.5 561.3 L723.1 561.3 L728.8 561.3 L734.4 561.3 L740.1 561.4 L745.7 561.4 L751.4 561.4" stroke="#aa32a1" stroke-width="1.1" fill="none" stroke-linejoin="round" stroke-linecap="round"/><path d="M282.6 92.6 L288.2 93.6 L293.9 99.9 L299.5 110.5 L305.2 124.7 L310.8 141.7 L316.5 160.9 L322.1 181.6 L327.8 203.2 L333.4 225.4 L339.1 247.7 L344.7 269.8 L350.4 291.4 L356.0 312.4 L361.6 332.5 L367.3 351.6 L372.9 369.8 L378.6 386.8 L384.2 402.8 L389.9 417.6 L395.5 431.4 L401.2 444.1 L406.8 455.7 L412.5 466.4 L418.1 476.2 L423.8 485.1 L429.4 493.2 L435.1 500.5 L440.7 507.1 L446.4 513.1 L452.0 518.4 L457.7 523.3 L463.3 527.6 L469.0 531.5 L474.6 534.9 L480.3 538.0 L485.9 540.7 L491.6 543.2 L497.2 545.3 L502.8 547.3 L508.5 549.0 L514.1 550.5 L519.8 551.8 L525.4 553.0 L531.1 554.0 L536.7 554.9 L542.4 555.7 L548.0 556.5 L553.7 557.1 L559.3 557.6 L565.0 558.1 L570.6 558.5 L576.3 558.9 L581.9 559.2 L587.6 559.5 L593.2 559.7 L598.9 560.0 L604.5 560.1 L610.2 560.3 L615.8 560.5 L621.5 560.6 L627.1 560.7 L632.8 560.8 L638.4 560.9 L644.0 560.9 L649.7 561.0 L655.3 561.1 L661.0 561.1 L666.6 561.1 L672.3 561.2 L677.9 561.2 L683.6 561.2 L689.2 561.3 L694.9 561.3 L700.5 561.3 L706.2 561.3 L711.8 561.3 L717.5 561.3 L723.1 561.3 L728.8 561.3 L734.4 561.4 L740.1 561.4 L745.7 561.4 L751.4 561.4" stroke="#a134a9" stroke-width="1.1" fill="none" stroke-linejoin="round" stroke-linecap="round"/><path d="M288.2 92.6 L293.9 95.1 L299.5 102.9 L305.2 115.3 L310.8 131.2 L316.5 149.9 L322.1 170.6 L327.8 192.6 L333.4 215.3 L339.1 238.4 L344.7 261.4 L350.4 283.9 L356.0 305.8 L361.6 326.8 L367.3 346.8 L372.9 365.7 L378.6 383.5 L384.2 400.1 L389.9 415.6 L395.5 429.8 L401.2 443.0 L406.8 455.0 L412.5 466.1 L418.1 476.1 L423.8 485.2 L429.4 493.5 L435.1 500.9 L440.7 507.6 L446.4 513.7 L452.0 519.1 L457.7 524.0 L463.3 528.3 L469.0 532.2 L474.6 535.6 L480.3 538.7 L485.9 541.4 L491.6 543.8 L497.2 546.0 L502.8 547.8 L508.5 549.5 L514.1 551.0 L519.8 552.3 L525.4 553.4 L531.1 554.4 L536.7 555.3 L542.4 556.1 L548.0 556.8 L553.7 557.4 L559.3 557.9 L565.0 558.3 L570.6 558.7 L576.3 559.1 L581.9 559.4 L587.6 559.7 L593.2 559.9 L598.9 560.1 L604.5 560.3 L610.2 560.4 L615.8 560.5 L621.5 560.7 L627.1 560.8 L632.8 560.8 L638.4 560.9 L644.0 561.0 L649.7 561.0 L655.3 561.1 L661.0 561.1 L666.6 561.2 L672.3 561.2 L677.9 561.2 L683.6 561.3 L689.2 561.3 L694.9 561.3 L700.5 561.3 L706.2 561.3 L711.8 561.3 L717.5 561.3 L723.1 561.3 L728.8 561.4 L734.4 561.4 L740.1 561.4 L745.7 561.4 L751.4 561.4" stroke="#9836b0" stroke-width="1.1" fill="none" stroke-linejoin="round" stroke-linecap="round"/><path d="M293.9 92.6 L299.5 96.0 L305.2 105.4 L310.8 119.5 L316.5 137.4 L322.1 158.0 L327.8 180.4 L333.4 204.1 L339.1 228.2 L344.7 252.4 L350.4 276.3 L356.0 299.5 L361.6 321.8 L367.3 343.0 L372.9 363.0 L378.6 381.7 L384.2 399.2 L389.9 415.4 L395.5 430.2 L401.2 443.9 L406.8 456.4 L412.5 467.7 L418.1 478.0 L423.8 487.3 L429.4 495.6 L435.1 503.1 L440.7 509.9 L446.4 515.9 L452.0 521.3 L457.7 526.1 L463.3 530.3 L469.0 534.1 L474.6 537.5 L480.3 540.4 L485.9 543.0 L491.6 545.3 L497.2 547.4 L502.8 549.1 L508.5 550.7 L514.1 552.1 L519.8 553.3 L525.4 554.3 L531.1 555.3 L536.7 556.1 L542.4 556.8 L548.0 557.4 L553.7 557.9 L559.3 558.4 L565.0 558.8 L570.6 559.1 L576.3 559.4 L581.9 559.7 L587.6 559.9 L593.2 560.1 L598.9 560.3 L604.5 560.5 L610.2 560.6 L615.8 560.7 L621.5 560.8 L627.1 560.9 L632.8 561.0 L638.4 561.0 L644.0 561.1 L649.7 561.1 L655.3 561.2 L661.0 561.2 L666.6 561.2 L672.3 561.2 L677.9 561.3 L683.6 561.3 L689.2 561.3 L694.9 561.3 L700.5 561.3 L706.2 561.3 L711.8 561.3 L717.5 561.4 L723.1 561.4 L728.8 561.4 L734.4 561.4 L740.1 561.4 L745.7 561.4 L751.4 561.4" stroke="#8e35b2" stroke-width="1.1" fill="none" stroke-linejoin="round" stroke-linecap="round"/><path d="M299.5 92.6 L305.2 96.7 L310.8 107.4 L316.5 123.4 L322.1 143.3 L327.8 166.0 L333.4 190.4 L339.1 215.8 L344.7 241.4 L350.4 266.8 L356.0 291.6 L361.6 315.4 L367.3 338.0 L372.9 359.4 L378.6 379.3 L384.2 397.8 L389.9 414.8 L395.5 430.4 L401.2 444.7 L406.8 457.6 L412.5 469.4 L418.1 479.9 L423.8 489.4 L429.4 497.9 L435.1 505.5 L440.7 512.3 L446.4 518.3 L452.0 523.6 L457.7 528.3 L463.3 532.5 L469.0 536.1 L474.6 539.4 L480.3 542.2 L485.9 544.7 L491.6 546.9 L497.2 548.8 L502.8 550.5 L508.5 551.9 L514.1 553.2 L519.8 554.3 L525.4 555.3 L531.1 556.1 L536.7 556.8 L542.4 557.4 L548.0 558.0 L553.7 558.5 L559.3 558.9 L565.0 559.2 L570.6 559.5 L576.3 559.8 L581.9 560.0 L587.6 560.2 L593.2 560.4 L598.9 560.5 L604.5 560.6 L610.2 560.8 L615.8 560.8 L621.5 560.9 L627.1 561.0 L632.8 561.1 L638.4 561.1 L644.0 561.1 L649.7 561.2 L655.3 561.2 L661.0 561.2 L666.6 561.3 L672.3 561.3 L677.9 561.3 L683.6 561.3 L689.2 561.3 L694.9 561.3 L700.5 561.3 L706.2 561.4 L711.8 561.4 L717.5 561.4 L723.1 561.4 L728.8 561.4 L734.4 561.4 L740.1 561.4 L745.7 561.4 L751.4 561.4" stroke="#8433b4" stroke-width="1.1" fill="none" stroke-linejoin="round" stroke-linecap="round"/><path d="M305.2 92.6 L310.8 97.1 L316.5 109.4 L322.1 127.4 L327.8 149.6 L333.4 174.6 L339.1 201.1 L344.7 228.4 L350.4 255.7 L356.0 282.3 L361.6 308.0 L367.3 332.4 L372.9 355.3 L378.6 376.6 L384.2 396.3 L389.9 414.4 L395.5 430.9 L401.2 445.8 L406.8 459.3 L412.5 471.4 L418.1 482.3 L423.8 492.0 L429.4 500.6 L435.1 508.2 L440.7 515.0 L446.4 521.0 L452.0 526.2 L457.7 530.8 L463.3 534.9 L469.0 538.4 L474.6 541.5 L480.3 544.2 L485.9 546.5 L491.6 548.6 L497.2 550.3 L502.8 551.9 L508.5 553.2 L514.1 554.3 L519.8 555.3 L525.4 556.2 L531.1 556.9 L536.7 557.6 L542.4 558.1 L548.0 558.6 L553.7 559.0 L559.3 559.3 L565.0 559.6 L570.6 559.9 L576.3 560.1 L581.9 560.3 L587.6 560.5 L593.2 560.6 L598.9 560.7 L604.5 560.8 L610.2 560.9 L615.8 561.0 L621.5 561.0 L627.1 561.1 L632.8 561.1 L638.4 561.2 L644.0 561.2 L649.7 561.2 L655.3 561.3 L661.0 561.3 L666.6 561.3 L672.3 561.3 L677.9 561.3 L683.6 561.3 L689.2 561.4 L694.9 561.4 L700.5 561.4 L706.2 561.4 L711.8 561.4 L717.5 561.4 L723.1 561.4 L728.8 561.4 L734.4 561.4 L740.1 561.4 L745.7 561.4 L751.4 561.4" stroke="#7a32b6" stroke-width="1.1" fill="none" stroke-linejoin="round" stroke-linecap="round"/><path d="M310.8 92.6 L316.5 97.9 L322.1 111.9 L327.8 132.2 L333.4 156.8 L339.1 184.1 L344.7 212.7 L350.4 241.7 L356.0 270.3 L361.6 297.9 L367.3 324.2 L372.9 348.8 L378.6 371.7 L384.2 392.8 L389.9 412.0 L395.5 429.5 L401.2 445.3 L406.8 459.4 L412.5 472.1 L418.1 483.3 L423.8 493.3 L429.4 502.1 L435.1 509.9 L440.7 516.7 L446.4 522.7 L452.0 527.9 L457.7 532.5 L463.3 536.4 L469.0 539.9 L474.6 542.9 L480.3 545.5 L485.9 547.7 L491.6 549.7 L497.2 551.4 L502.8 552.8 L508.5 554.1 L514.1 555.1 L519.8 556.0 L525.4 556.8 L531.1 557.5 L536.7 558.1 L542.4 558.6 L548.0 559.0 L553.7 559.3 L559.3 559.7 L565.0 559.9 L570.6 560.1 L576.3 560.3 L581.9 560.5 L587.6 560.6 L593.2 560.7 L598.9 560.8 L604.5 560.9 L610.2 561.0 L615.8 561.1 L621.5 561.1 L627.1 561.2 L632.8 561.2 L638.4 561.2 L644.0 561.3 L649.7 561.3 L655.3 561.3 L661.0 561.3 L666.6 561.3 L672.3 561.3 L677.9 561.3 L683.6 561.4 L689.2 561.4 L694.9 561.4 L700.5 561.4 L706.2 561.4 L711.8 561.4 L717.5 561.4 L723.1 561.4 L728.8 561.4 L734.4 561.4 L740.1 561.4 L745.7 561.4 L751.4 561.4" stroke="#6f30b3" stroke-width="1.1" fill="none" stroke-linejoin="round" stroke-linecap="round"/><path d="M316.5 92.6 L322.1 98.8 L327.8 114.8 L333.4 137.8 L339.1 165.1 L344.7 194.8 L350.4 225.6 L356.0 256.2 L361.6 286.0 L367.3 314.3 L372.9 340.9 L378.6 365.6 L384.2 388.2 L389.9 408.8 L395.5 427.4 L401.2 444.1 L406.8 458.9 L412.5 472.2 L418.1 483.9 L423.8 494.2 L429.4 503.2 L435.1 511.2 L440.7 518.1 L446.4 524.1 L452.0 529.3 L457.7 533.9 L463.3 537.8 L469.0 541.2 L474.6 544.1 L480.3 546.6 L485.9 548.8 L491.6 550.6 L497.2 552.2 L502.8 553.6 L508.5 554.8 L514.1 555.8 L519.8 556.6 L525.4 557.3 L531.1 558.0 L536.7 558.5 L542.4 558.9 L548.0 559.3 L553.7 559.6 L559.3 559.9 L565.0 560.1 L570.6 560.3 L576.3 560.5 L581.9 560.6 L587.6 560.8 L593.2 560.9 L598.9 560.9 L604.5 561.0 L610.2 561.1 L615.8 561.1 L621.5 561.2 L627.1 561.2 L632.8 561.2 L638.4 561.3 L644.0 561.3 L649.7 561.3 L655.3 561.3 L661.0 561.3 L666.6 561.3 L672.3 561.4 L677.9 561.4 L683.6 561.4 L689.2 561.4 L694.9 561.4 L700.5 561.4 L706.2 561.4 L711.8 561.4 L717.5 561.4 L723.1 561.4 L728.8 561.4 L734.4 561.4 L740.1 561.4 L745.7 561.4 L751.4 561.4" stroke="#642eb0" stroke-width="1.1" fill="none" stroke-linejoin="round" stroke-linecap="round"/><path d="M322.1 92.6 L327.8 99.8 L333.4 118.3 L339.1 144.1 L344.7 174.3 L350.4 206.7 L356.0 239.5 L361.6 271.8 L367.3 302.6 L372.9 331.6 L378.6 358.4 L384.2 382.9 L389.9 405.0 L395.5 425.0 L401.2 442.7 L406.8 458.5 L412.5 472.4 L418.1 484.6 L423.8 495.3 L429.4 504.6 L435.1 512.7 L440.7 519.7 L446.4 525.8 L452.0 531.0 L457.7 535.5 L463.3 539.4 L469.0 542.7 L474.6 545.5 L480.3 547.9 L485.9 550.0 L491.6 551.7 L497.2 553.2 L502.8 554.5 L508.5 555.6 L514.1 556.5 L519.8 557.2 L525.4 557.9 L531.1 558.5 L536.7 558.9 L542.4 559.3 L548.0 559.6 L553.7 559.9 L559.3 560.2 L565.0 560.4 L570.6 560.5 L576.3 560.7 L581.9 560.8 L587.6 560.9 L593.2 561.0 L598.9 561.0 L604.5 561.1 L610.2 561.1 L615.8 561.2 L621.5 561.2 L627.1 561.3 L632.8 561.3 L638.4 561.3 L644.0 561.3 L649.7 561.3 L655.3 561.3 L661.0 561.4 L666.6 561.4 L672.3 561.4 L677.9 561.4 L683.6 561.4 L689.2 561.4 L694.9 561.4 L700.5 561.4 L706.2 561.4 L711.8 561.4 L717.5 561.4 L723.1 561.4 L728.8 561.4 L734.4 561.4 L740.1 561.4 L745.7 561.4 L751.4 561.4" stroke="#5a2bae" stroke-width="1.1" fill="none" stroke-linejoin="round" stroke-linecap="round"/><path d="M327.8 92.6 L333.4 101.2 L339.1 122.8 L344.7 152.3 L350.4 186.1 L356.0 221.4 L361.6 256.7 L367.3 290.6 L372.9 322.5 L378.6 351.9 L384.2 378.7 L389.9 402.8 L395.5 424.3 L401.2 443.3 L406.8 460.0 L412.5 474.5 L418.1 487.2 L423.8 498.2 L429.4 507.6 L435.1 515.8 L440.7 522.8 L446.4 528.7 L452.0 533.8 L457.7 538.1 L463.3 541.8 L469.0 544.9 L474.6 547.6 L480.3 549.8 L485.9 551.7 L491.6 553.2 L497.2 554.6 L502.8 555.7 L508.5 556.6 L514.1 557.4 L519.8 558.1 L525.4 558.6 L531.1 559.1 L536.7 559.5 L542.4 559.8 L548.0 560.1 L553.7 560.3 L559.3 560.5 L565.0 560.6 L570.6 560.8 L576.3 560.9 L581.9 561.0 L587.6 561.0 L593.2 561.1 L598.9 561.2 L604.5 561.2 L610.2 561.2 L615.8 561.3 L621.5 561.3 L627.1 561.3 L632.8 561.3 L638.4 561.3 L644.0 561.3 L649.7 561.4 L655.3 561.4 L661.0 561.4 L666.6 561.4 L672.3 561.4 L677.9 561.4 L683.6 561.4 L689.2 561.4 L694.9 561.4 L700.5 561.4 L706.2 561.4 L711.8 561.4 L717.5 561.4 L723.1 561.4 L728.8 561.4 L734.4 561.4 L740.1 561.4 L745.7 561.4 L751.4 561.4" stroke="#4f29ab" stroke-width="1.1" fill="none" stroke-linejoin="round" stroke-linecap="round"/></g>
<circle cx="164" cy="254.2" r="10" fill="#f3df38" fill-opacity="0.25"/>
<line x1="277.3" x2="327.8" y1="92.3" y2="92.3" stroke="#333" stroke-width="3" stroke-dasharray="3 3"/>
<path d="M73.6 310.4 L79.2 317.4 L84.9 319.5 L90.5 320.5 L96.2 312.2 L101.8 304.5 L107.5 296.2 L113.1 290.0 L118.8 280.6 L124.4 274.0 L130.1 273.1 L135.7 268.5 L141.4 271.3 L147.0 270.8 L152.7 266.1 L158.3 261.6 L164.0 253.8 L169.6 248.0 L175.3 246.8 L180.9 245.4 L186.6 240.5 L192.2 232.5 L197.9 223.7 L203.5 206.6 L209.2 187.9 L214.8 171.6 L220.4 157.4 L226.1 145.7 L231.7 136.1 L237.4 140.9 L243.0 122.4 L248.7 108.1 L254.3 101.7 L260.0 95.6 L265.6 92.6 L271.3 91.6" stroke="#333" stroke-width="6" fill="none" stroke-linejoin="round" stroke-linecap="round"/>
<line x1="242.6" y1="328.9" x2="270.8" y2="302.5" stroke="#111" stroke-width="2"/>
<line x1="305.1" y1="147.3" x2="358.8" y2="160.2" stroke="#111" stroke-width="2"/>
<g font-size="11.4" fill="#151515" stroke="#151515" stroke-width="0.15">
<text x="159.3" y="346.1">Pathway to 2C given</text>
<text x="159.3" y="360.9">given cumulative</text>
<text x="159.3" y="375.5">emissions in 1995.</text>
<text x="363.2" y="149.8">Pathway to 2C given</text>
<text x="363.2" y="165.1">given cumulative</text>
<text x="363.2" y="179.8">emissions in 2015.</text>
</g>
<path filter="url(#sh)" d="M110 208.5 H218 a3 3 0 0 1 3 3 V235.5 a3 3 0 0 1 -3 3 H169.3 L163.4 244.7 L157.6 238.5 H110 a3 3 0 0 1 -3 -3 V211.5 a3 3 0 0 1 3 -3 Z" fill="rgba(247,247,247,0.85)" stroke="#f3dc40" stroke-width="1"/>
<text x="115.9" y="227.5" font-size="11.2" font-weight="bold" fill="#f2dc3a">If we start in 1996<tspan fill="#333">:</tspan></text>

<path fill-rule="evenodd" fill="#4f80ae" d="M663.85 606.3 Q663.85 603.85 666.3 603.85 H669.7 Q672.1 603.85 672.1 606.3 V608.8 H669.3 V606.7 H666.8 V615.8 H669.3 V612.3 H672.1 V615.5 Q672.1 617.9 669.7 617.9 H666.3 Q663.85 617.9 663.85 615.5 Z"/>
<path fill-rule="evenodd" fill="#6db0e2" d="M673.1 604.2 H679.6 Q681.9 604.2 681.9 606.6 V609.6 Q681.9 610.9 681.1 611.1 Q681.9 611.3 681.9 612.6 V615.5 Q681.9 617.9 679.6 617.9 H673.1 Z M676.5 607 H678.9 V610.2 H676.5 Z M676.5 612.1 H678.9 V615.4 H676.5 Z"/>
<g transform="translate(712.0,611.4) rotate(45)" stroke="#f4b731" stroke-width="1.9" stroke-linecap="round">
<line x1="-7.1" x2="7.1" y1="-7.1" y2="-7.1"/><line x1="-9.8" x2="9.8" y1="-2.37" y2="-2.37"/><line x1="-9.8" x2="9.8" y1="2.37" y2="2.37"/><line x1="-7.1" x2="7.1" y1="7.1" y2="7.1"/>
<line y1="-7.1" y2="7.1" x1="-7.1" x2="-7.1"/><line y1="-9.8" y2="9.8" x1="-2.37" x2="-2.37"/><line y1="-9.8" y2="9.8" x1="2.37" x2="2.37"/><line y1="-7.1" y2="7.1" x1="7.1" x2="7.1"/>
</g>
<g font-family="'Liberation Serif', serif" font-size="5.6" fill="#555" letter-spacing="0.75">
<text x="729.5" y="606.2">WORLD</text>
<text x="729.5" y="613.7">RESOURCES</text>
<text x="729.5" y="621.2">INSTITUTE</text>
</g>
</svg>
</body></html>
